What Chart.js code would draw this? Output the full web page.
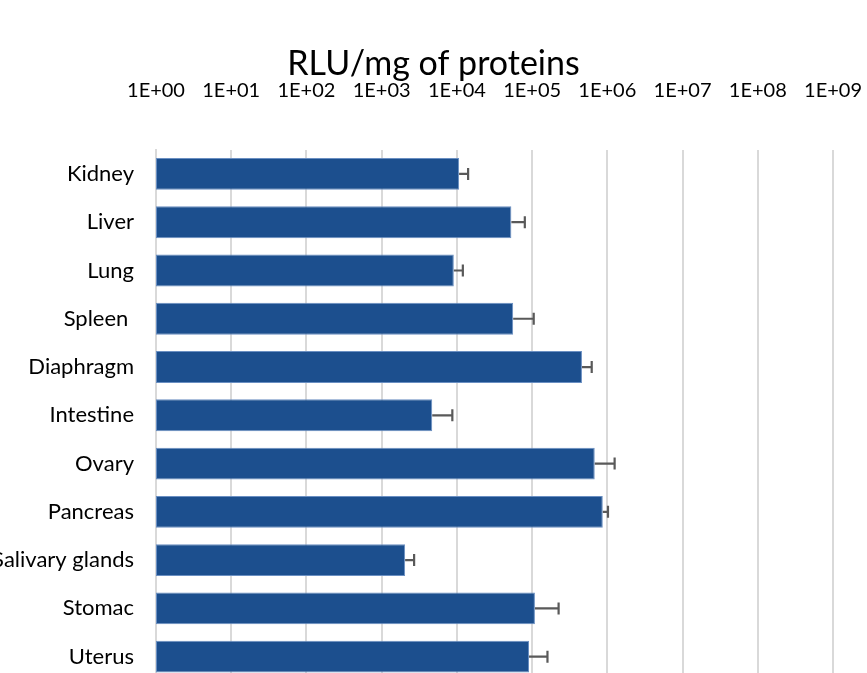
<!DOCTYPE html>
<html>
<head>
<meta charset="utf-8">
<script src="https://cdn.jsdelivr.net/npm/chart.js@4"></script>
<style>
  html, body { margin: 0; padding: 0; background: #fff; overflow: hidden; }
  #wrap { position: relative; width: 867px; height: 716px; }
</style>
</head>
<body>
<div id="wrap"><canvas id="chart"></canvas></div>
<script>
// organs, mean RLU/mg and the plus error (SD)
const organs = ['Kidney', 'Liver', 'Lung', 'Spleen ', 'Diaphragm', 'Intestine', 'Ovary', 'Pancreas', 'Salivary glands', 'Stomac', 'Uterus'];
const rluValues = [1.07e4, 5.3e4, 9.1e3, 5.6e4, 4.6e5, 4.7e3, 6.8e5, 8.7e5, 2.05e3, 1.09e5, 9.1e4];
const rluErrors = [3.4e3, 2.7e4, 2.9e3, 4.9e4, 1.6e5, 4.0e3, 5.7e5, 1.5e5, 6.5e2, 1.16e5, 6.9e4];

const tickValues = [1e0, 1e1, 1e2, 1e3, 1e4, 1e5, 1e6, 1e7, 1e8, 1e9];
const tickLabels = ['1E+00', '1E+01', '1E+02', '1E+03', '1E+04', '1E+05', '1E+06', '1E+07', '1E+08', '1E+09'];

const FONT = 'Lato';

// Excel-like error bars, plus side only
const errorBars = {
    id: 'errorBars',
    afterDatasetsDraw(chart) {
        const ctx = chart.ctx;
        const xScale = chart.scales.x;
        const meta = chart.getDatasetMeta(0);
        ctx.save();
        ctx.strokeStyle = '#595959';
        ctx.lineWidth = 2.2;
        meta.data.forEach((bar, i) => {
            const x0 = bar.x;
            const x1 = xScale.getPixelForValue(rluValues[i] + rluErrors[i]);
            const y = bar.y;
            ctx.beginPath();
            ctx.moveTo(x0, y);
            ctx.lineTo(x1, y);
            ctx.moveTo(x1, y - 6);
            ctx.lineTo(x1, y + 6);
            ctx.stroke();
        });
        ctx.restore();
    }
};

new Chart(document.getElementById('chart'), {
    type: 'bar',
    data: {
        labels: organs,
        datasets: [{
            data: rluValues,
            backgroundColor: '#1c4f8e',
            borderColor: '#6a8fc2',
            borderWidth: 1,
            borderSkipped: false,
            categoryPercentage: 1,
            barPercentage: 0.66
        }]
    },
    options: {
        indexAxis: 'y',
        responsive: true,
        maintainAspectRatio: false,
        animation: false,
        layout: { padding: { top: 0, right: 0, left: 0, bottom: 0 } },
        plugins: {
            legend: { display: false },
            tooltip: { enabled: false },
            title: {
                display: true,
                text: 'RLU/mg of proteins',
                color: '#000',
                font: { family: FONT, size: 34, weight: 'normal' },
                padding: { top: 44, bottom: -21 }
            }
        },
        scales: {
            x: {
                type: 'logarithmic',
                position: 'top',
                min: 1,
                max: 1e9,
                afterBuildTicks: axis => {
                    axis.ticks = tickValues.map(v => ({ value: v }));
                },
                afterFit: axis => {
                    axis.height = 86;
                    axis.paddingLeft = 0;
                    axis.paddingRight = 34;
                },
                ticks: {
                    autoSkip: false,
                    maxRotation: 0,
                    padding: 47,
                    color: '#000',
                    font: { family: FONT, size: 20 },
                    callback: (v, i) => tickLabels[i]
                },
                grid: { color: '#d9d9d9', lineWidth: 2, drawTicks: false },
                border: { display: false }
            },
            y: {
                afterFit: axis => { axis.width = 156; },
                ticks: {
                    padding: 22,
                    color: '#000',
                    font: { family: FONT, size: 22 }
                },
                grid: { display: false, drawTicks: false },
                border: { display: true, color: '#d9d9d9', width: 2 }
            }
        }
    },
    plugins: [errorBars]
});
</script>
</body>
</html>
